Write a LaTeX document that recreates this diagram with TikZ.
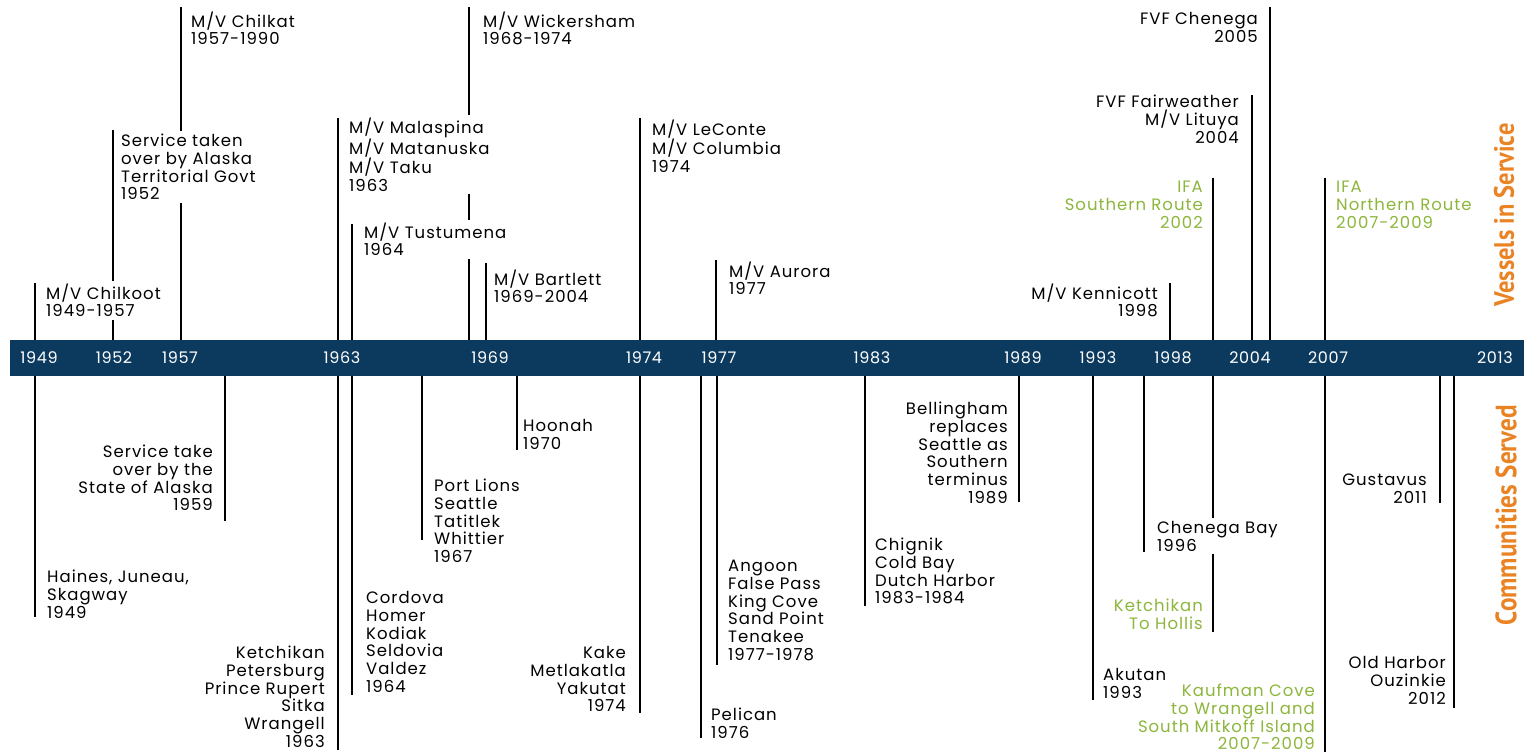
\documentclass[tikz,border=0pt]{standalone}
\usepackage{fontspec}
\setmainfont{Poppins}[LetterSpace=6]
\newfontfamily\yrfont{Poppins}[LetterSpace=4]
\newfontfamily\hdfont{PT Sans}
\definecolor{navy}{RGB}{12,58,94}
\definecolor{leaf}{RGB}{141,182,60}
\definecolor{amber}{RGB}{233,131,36}
\newcommand\fst{\rule{0pt}{13pt}}
\tikzset{
  stem/.style={line width=2.4pt, draw=black},
  lbl/.style={fill=white, inner xsep=2pt, inner ysep=3pt, align=left, anchor=north west, yshift=1pt, font=\fontsize{16.5}{17.7}\selectfont},
  rlbl/.style={lbl, align=right, anchor=north east},
  ifa/.style={text=leaf},
  yr/.style={text=white, inner sep=0pt, font=\yrfont\fontsize{16}{16}\selectfont},
  side/.style={rotate=90, text=amber, inner sep=0pt}
}
\begin{document}
\begin{tikzpicture}[x=1pt,y=-1pt]
\useasboundingbox (0,0) rectangle (1524,754);
% band
\node[fill=navy, minimum width=1514pt, minimum height=36pt, inner sep=0pt, anchor=north west] (band) at (10,340) {};
% top stems
\foreach \n/\x/\y in {t1/35/283, t2/113/130, t3/181/7, t4/338/118, t5/352/224, t6/469/7, t7/486/263, t8/640/118, t9/716/260, t10/1170/283, t11/1213/178, t12/1252/95, t13/1270/7, t14/1325/178}{
  \coordinate (\n) at (\x,\y);
  \draw[stem] (\n) -- (\n |- band.north);
}
% bottom stems
\foreach \n/\x/\y in {b1/35/617, b2/225/521, b3/338/750, b4/352/695, b5/422/540, b6/517/450, b7/640/713, b8/701/738, b9/717/665, b10/865/606, b11/1019/502, b12/1093/700, b13/1144/552, b14/1213/632, b15/1325/752, b16/1440/503, b17/1454/708}{
  \coordinate (\n) at (\x,\y);
  \draw[stem] (band.south -| \n) -- (\n);
}
% years
\node[yr] (y1949) at (39,358) {1949};
\node[yr] (y1952) at (114,358) {1952};
\node[yr] (y1957) at (180,358) {1957};
\node[yr] (y1963) at (342,358) {1963};
\node[yr] (y1969) at (490,358) {1969};
\node[yr] (y1974) at (644,358) {1974};
\node[yr] (y1977) at (719,358) {1977};
\node[yr] (y1983) at (872,358) {1983};
\node[yr] (y1989) at (1023,358) {1989};
\node[yr] (y1993) at (1098,358) {1993};
\node[yr] (y1998) at (1173,358) {1998};
\node[yr] (y2004) at (1250,358) {2004};
\node[yr] (y2007) at (1328,358) {2007};
\node[yr] (y2013) at (1495,358) {2013};
% top labels
\node[lbl] (nChilkoot) at (44,281.5) {\fst M/V Chilkoot\\1949-1957};
\node[lbl] (nTerr) at (119,131.5) {\fst Service taken\\over by Alaska\\Territorial Govt\\1952};
\node[lbl] (nChilkat) at (189,9.5) {\fst M/V Chilkat\\1957-1990};
\node[lbl] (nMalaspina) at (347,115.5) {\fst M/V Malaspina\\M/V Matanuska\\M/V Taku\\1963};
\node[lbl] (nTustumena) at (362,220.5) {\fst M/V Tustumena\\1964};
\node[lbl] (nWickersham) at (481,9.5) {\fst M/V Wickersham\\1968-1974};
\node[lbl] (nBartlett) at (492,267.5) {\fst M/V Bartlett\\1969-2004};
\node[lbl] (nLeConte) at (650,117.5) {\fst M/V LeConte\\M/V Columbia\\1974};
\node[lbl] (nAurora) at (727,259.5) {\fst M/V Aurora\\1977};
\node[rlbl] (nKennicott) at (1160,281.5) {\fst M/V Kennicott\\1998};
\node[rlbl,ifa] (nIFAs) at (1205,177.5) {\fst IFA\\Southern Route\\2002};
\node[rlbl] (nFairweather) at (1241,92.5) {\fst FVF Fairweather\\M/V Lituya\\2004};
\node[rlbl] (nChenega) at (1260,9.5) {\fst FVF Chenega\\2005};
\node[lbl,ifa] (nIFAn) at (1334,177.5) {\fst IFA\\Northern Route\\2007-2009};
% bottom labels
\node[lbl] (nHaines) at (45,567.5) {\fst Haines, Juneau,\\Skagway\\1949};
\node[rlbl] (nState) at (215,442.5) {\fst Service take\\over by the\\State of Alaska\\1959};
\node[rlbl] (nKetch) at (327,643.5) {\fst Ketchikan\\Petersburg\\Prince Rupert\\Sitka\\Wrangell\\1963};
\node[lbl] (nCordova) at (364,588.5) {\fst Cordova\\Homer\\Kodiak\\Seldovia\\Valdez\\1964};
\node[lbl] (nPortLions) at (432,476.5) {\fst Port Lions\\Seattle\\Tatitlek\\Whittier\\1967};
\node[lbl] (nHoonah) at (521,416.5) {\fst Hoonah\\1970};
\node[rlbl] (nKake) at (628,643.5) {\fst Kake\\Metlakatla\\Yakutat\\1974};
\node[lbl] (nPelican) at (709,705.5) {\fst Pelican\\1976};
\node[lbl] (nAngoon) at (726,556.5) {\fst Angoon\\False Pass\\King Cove\\Sand Point\\Tenakee\\1977-1978};
\node[lbl] (nChignik) at (873,535.5) {\fst Chignik\\Cold Bay\\Dutch Harbor\\1983-1984};
\node[rlbl] (nBellingham) at (1010,399.5) {\fst Bellingham\\replaces\\Seattle as\\Southern\\terminus\\1989};
\node[rlbl,ifa] (nKaufman) at (1317,681.5) {\fst Kaufman Cove\\to Wrangell and\\South Mitkoff Island\\2007-2009};
\node[lbl] (nAkutan) at (1101,665.5) {\fst Akutan\\1993};
\node[lbl] (nChenegaBay) at (1155,518.5) {\fst Chenega Bay\\1996};
\node[rlbl,ifa] (nHollis) at (1205,596.5) {\fst Ketchikan\\To Hollis};
\node[rlbl] (nGustavus) at (1429,470.5) {\fst Gustavus\\2011};
\node[rlbl] (nOldHarbor) at (1448,653.5) {\fst Old Harbor\\Ouzinkie\\2012};
% side titles
\node[side] (vis) at (1504,215) {\resizebox{183pt}{20pt}{\hdfont\bfseries Vessels in Service}};
\node[side] (cs) at (1506,515) {\resizebox{220pt}{21pt}{\hdfont\bfseries Communities Served}};
\end{tikzpicture}
\end{document}
